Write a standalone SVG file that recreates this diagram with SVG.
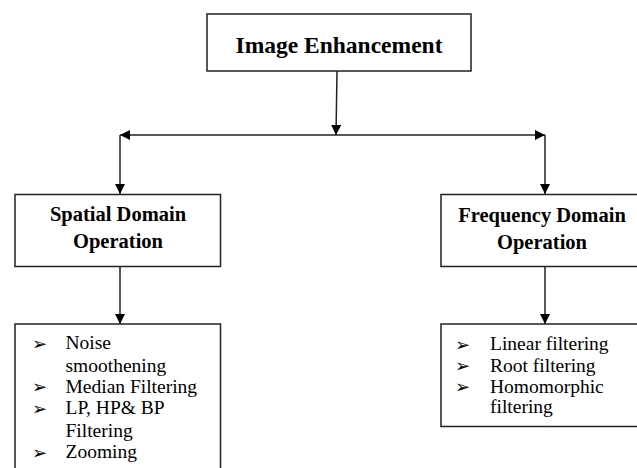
<svg xmlns="http://www.w3.org/2000/svg" width="637" height="468" viewBox="0 0 637 468">
<style>
.box{fill:#fff;stroke:#222;stroke-width:1.5}
.ttl{font-family:"Liberation Serif",serif;font-weight:bold;text-anchor:middle;fill:#000}
.item{font-family:"Liberation Serif",serif;font-size:19.5px;fill:#000}
.bul{font-family:"DejaVu Sans",sans-serif;font-size:18px;fill:#000}
.ln{fill:none;stroke:#222;stroke-width:1.5}
</style>
<defs>
<marker id="ah" viewBox="0 0 10 10" refX="10" refY="5" markerWidth="10" markerHeight="10" markerUnits="userSpaceOnUse" orient="auto">
<path d="M0,0 L10,5 L0,10 Z" fill="#000"/>
</marker>
</defs>
<rect width="637" height="468" fill="#fff"/>
<g id="connectors">
<line class="ln" x1="337" y1="71" x2="336" y2="135" marker-end="url(#ah)"/>
<line class="ln" x1="336" y1="135" x2="120" y2="135" marker-end="url(#ah)"/>
<line class="ln" x1="336" y1="135" x2="545" y2="135" marker-end="url(#ah)"/>
<line class="ln" x1="120" y1="135" x2="120" y2="194" marker-end="url(#ah)"/>
<line class="ln" x1="545" y1="135" x2="545" y2="194" marker-end="url(#ah)"/>
<line class="ln" x1="120" y1="267" x2="120" y2="324" marker-end="url(#ah)"/>
<line class="ln" x1="545" y1="267" x2="545" y2="324" marker-end="url(#ah)"/>
</g>
<g id="image-enhancement">
<rect class="box" x="207" y="14" width="264" height="57"/>
<text class="ttl" x="339" y="53" font-size="23.5">Image Enhancement</text>
</g>
<g id="spatial-domain">
<rect class="box" x="15" y="194.5" width="205.5" height="72"/>
<text class="ttl" x="118" y="221" font-size="20.5">Spatial Domain</text>
<text class="ttl" x="118" y="248" font-size="20.5">Operation</text>
</g>
<g id="frequency-domain">
<rect class="box" x="441" y="194.5" width="200" height="72"/>
<text class="ttl" x="542" y="222" font-size="20.5">Frequency Domain</text>
<text class="ttl" x="542" y="248.5" font-size="20.5">Operation</text>
</g>
<g id="spatial-list">
<rect class="box" x="15" y="324" width="205.5" height="150"/>
<text class="bul" x="32" y="349.5">➢</text>
<text class="item" x="65.5" y="349">Noise</text>
<text class="item" x="65.5" y="371.5">smoothening</text>
<text class="bul" x="32" y="393">➢</text>
<text class="item" x="65.5" y="392.5">Median Filtering</text>
<text class="bul" x="32" y="414.5">➢</text>
<text class="item" x="65.5" y="414">LP, HP&amp; BP</text>
<text class="item" x="65.5" y="436.5">Filtering</text>
<text class="bul" x="32" y="458.5">➢</text>
<text class="item" x="65.5" y="458">Zooming</text>
</g>
<g id="frequency-list">
<rect class="box" x="441" y="324" width="200" height="102.5"/>
<text class="bul" x="455" y="350.5">➢</text>
<text class="item" x="490" y="350">Linear filtering</text>
<text class="bul" x="455" y="372">➢</text>
<text class="item" x="490" y="371.5">Root filtering</text>
<text class="bul" x="455" y="393">➢</text>
<text class="item" x="490" y="392.5">Homomorphic</text>
<text class="item" x="490" y="413">filtering</text>
</g>
</svg>
